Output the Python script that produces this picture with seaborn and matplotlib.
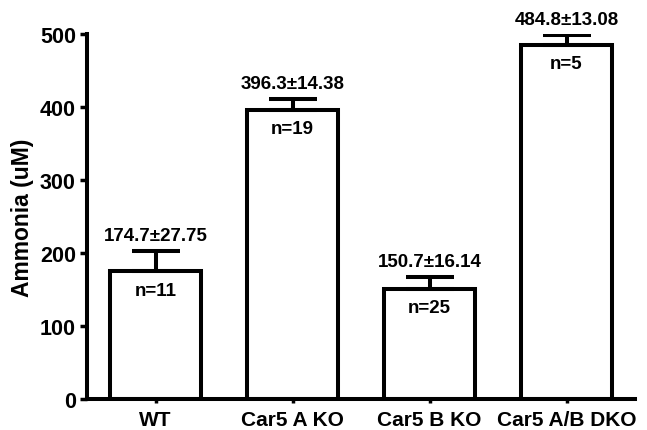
import matplotlib
matplotlib.use("Agg")
import matplotlib.pyplot as plt
import seaborn as sns
import pandas as pd
import numpy as np

groups = ["WT", "Car5 A KO", "Car5 B KO", "Car5 A/B DKO"]
means = [174.7, 396.3, 150.7, 484.8]
sems = [27.75, 14.38, 16.14, 13.08]
counts = [11, 19, 25, 5]

sns.set_theme(style="ticks")
plt.rcParams["font.family"] = ["Liberation Sans", "DejaVu Sans"]
plt.rcParams["font.weight"] = "bold"
for key in ["text.color", "axes.labelcolor", "xtick.color", "ytick.color",
            "axes.edgecolor"]:
    plt.rcParams[key] = "black"

df = pd.DataFrame({"group": groups, "ammonia": means})

fig = plt.figure(figsize=(6.47, 4.31), dpi=100)
ax = fig.add_axes([0.1345, 0.072, 0.847, 0.847])

sns.barplot(data=df, x="group", y="ammonia", ax=ax, color="white",
            edgecolor="black", linewidth=2.9, width=0.67, errorbar=None,
            saturation=1)

x = np.arange(len(groups))
ax.errorbar(x, means, yerr=[np.zeros(len(sems)), sems], fmt="none",
            ecolor="black", elinewidth=2.9, capsize=17, capthick=2.9,
            zorder=3)

for xi, m, s, n in zip(x, means, sems, counts):
    ax.text(xi, m + s + 10, f"{m:.1f}±{s:.2f}", ha="center", va="bottom",
            fontsize=13.5, fontweight="bold")
    ax.text(xi, m - 14, f"n={n}", ha="center", va="top",
            fontsize=13.5, fontweight="bold")

ax.set_ylim(0, 500)
ax.set_xlim(-0.5, 3.5)
ax.set_yticks([0, 100, 200, 300, 400, 500])
ax.set_xlabel("")
ax.set_ylabel("Ammonia (uM)", fontsize=16.5, fontweight="bold", labelpad=4)
ax.tick_params(axis="y", width=2.5, length=5, labelsize=15.5, pad=3)
ax.tick_params(axis="x", width=2.5, length=3, labelsize=15, pad=5)
for lbl in ax.get_xticklabels() + ax.get_yticklabels():
    lbl.set_fontweight("bold")
for side in ["top", "right"]:
    ax.spines[side].set_visible(False)
for side in ["left", "bottom"]:
    ax.spines[side].set_linewidth(2.9)
    ax.spines[side].set_color("black")

fig.savefig("out.png", dpi=100)
